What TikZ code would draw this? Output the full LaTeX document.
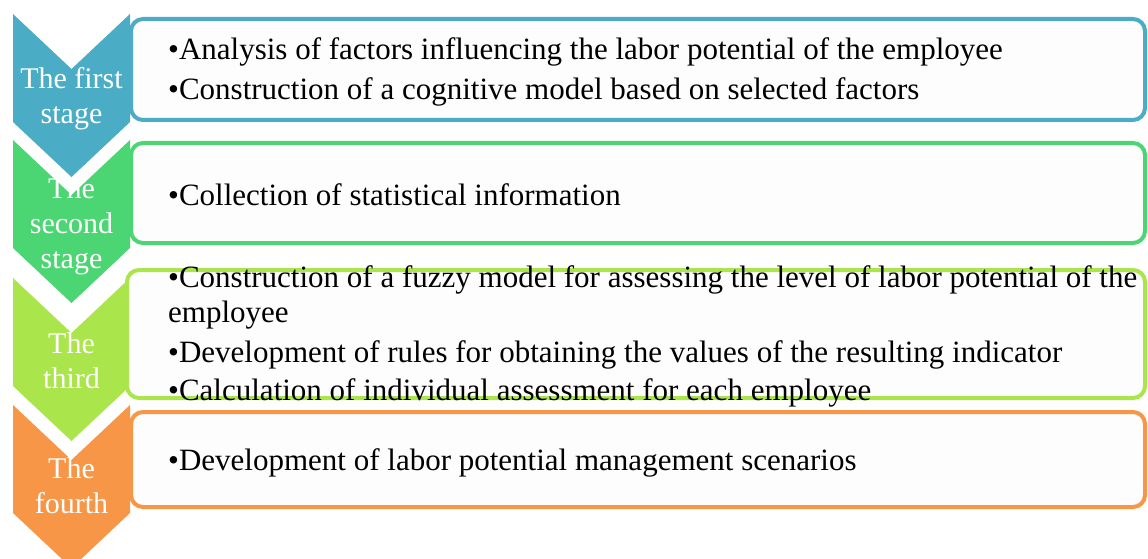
\documentclass[tikz,border=0pt]{standalone}
\usepackage{fontspec}
\setmainfont{Liberation Serif}
\definecolor{stblue}{RGB}{75,172,198}
\definecolor{stgreen}{RGB}{76,214,115}
\definecolor{stlime}{RGB}{169,229,75}
\definecolor{storange}{RGB}{247,150,70}
\tikzset{
  chev/.style={fill=#1,preaction={draw=white,line width=8pt,line join=round}},
  stagebox/.style={draw=#1,line width=4pt,rounded corners=12pt,fill=gray!1.5},
  stagetxt/.style={text=white,align=center,inner sep=0pt,anchor=base,
    font=\fontsize{30}{35}\selectfont},
  itemtxt/.style={anchor=base west,inner sep=0pt,align=left,
    font=\fontsize{31}{35}\selectfont}
}
\begin{document}
\begin{tikzpicture}[x=1pt,y=-1pt]
\useasboundingbox (0,0) rectangle (1148,559);
% chevrons, lowest first
\fill[chev=storange](13,405)--(71.5,460)--(130,405)--(130,513)--(71.5,568)--(13,513)--cycle;
\node[stagetxt](s4) at(71.5,513){The\\fourth};
\fill[chev=stlime](13,278)--(71.5,333)--(130,278)--(130,386)--(71.5,441)--(13,386)--cycle;
\node[stagetxt](s3) at(71.5,388){The\\third};
\fill[chev=stgreen](13,140)--(71.5,195)--(130,140)--(130,248)--(71.5,303)--(13,248)--cycle;
\node[stagetxt](s2) at(71.5,268){The\\second\\stage};
\fill[chev=stblue](13,14)--(71.5,69)--(130,14)--(130,122)--(71.5,177)--(13,122)--cycle;
\node[stagetxt](s1) at(71.5,124){The first\\stage};
% boxes
\draw[stagebox=stblue](131,19)rectangle(1145,120);
\draw[stagebox=stgreen](131,143)rectangle(1145,243);
\draw[stagebox=stlime](127,270)rectangle(1145,398);
\draw[stagebox=storange](131,412)rectangle(1145,507);
% items
\node[itemtxt](a1) at(168,60){•Analysis of factors influencing the labor potential of the employee};
\node[itemtxt](a2) at(168,100){•Construction of a cognitive model based on selected factors};
\node[itemtxt](b1) at(168,205){•Collection of statistical information};
\node[itemtxt](c1) at(168,322){•Construction of a fuzzy model for assessing the level of labor potential of the\\employee};
\node[itemtxt](c2) at(168,362){•Development of rules for obtaining the values of the resulting indicator};
\node[itemtxt](c3) at(168,400){•Calculation of individual assessment for each employee};
\node[itemtxt](d1) at(168,470){•Development of labor potential management scenarios};
\end{tikzpicture}
\end{document}
